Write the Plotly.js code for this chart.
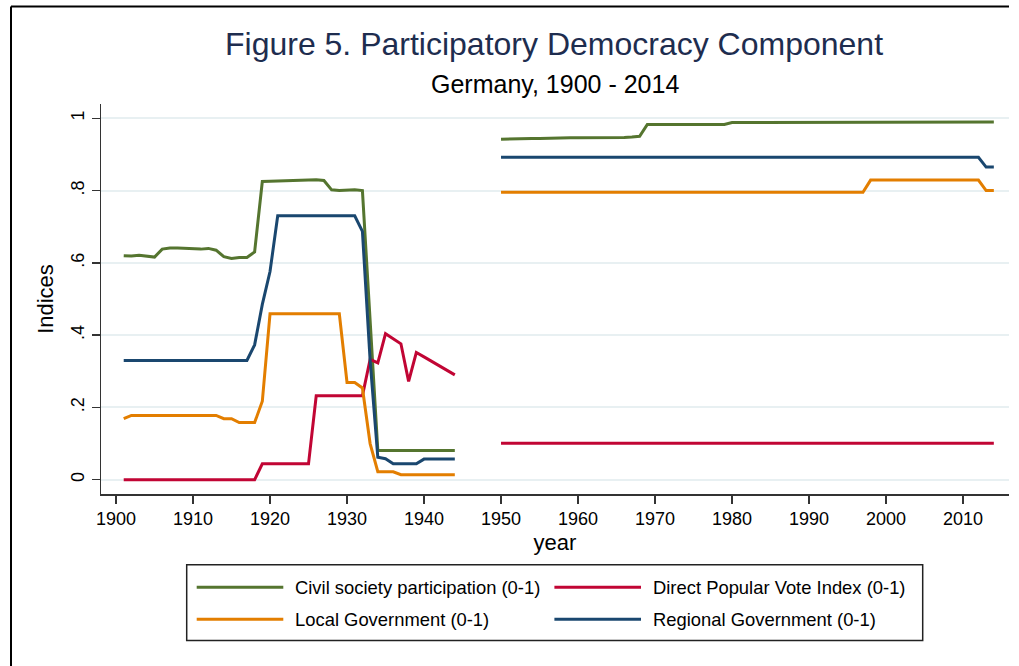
<!DOCTYPE html>
<html>
<head>
<meta charset="utf-8">
<script src="https://cdn.plot.ly/plotly-3.0.1.min.js"></script>
<style>html,body{margin:0;padding:0;background:#fff;overflow:hidden;}#chart{width:1019px;height:666px;}</style>
</head>
<body>
<div id="chart"></div>
<script>
// ---- Data ----
var yearsEarly = [1901,1902,1903,1904,1905,1906,1907,1908,1909,1910,1911,1912,1913,1914,1915,1916,1917,1918,1919,1920,1921,1922,1923,1924,1925,1926,1927,1928,1929,1930,1931,1932,1933,1934,1935,1936,1937,1938,1939,1940,1941,1942,1943,1944];
var yearsLate = [1950,1951,1952,1953,1954,1955,1956,1957,1958,1959,1960,1961,1962,1963,1964,1965,1966,1967,1968,1969,1970,1971,1972,1973,1974,1975,1976,1977,1978,1979,1980,1981,1982,1983,1984,1985,1986,1987,1988,1989,1990,1991,1992,1993,1994,1995,1996,1997,1998,1999,2000,2001,2002,2003,2004,2005,2006,2007,2008,2009,2010,2011,2012,2013,2014];

var civilEarly = [0.620,0.619,0.621,0.619,0.616,0.638,0.641,0.641,0.640,0.640,0.638,0.640,0.635,0.617,0.612,0.615,0.615,0.630,0.825,0.826,0.827,0.827,0.829,0.830,0.830,0.830,0.828,0.802,0.800,0.801,0.802,0.800,0.450,0.081,0.081,0.081,0.081,0.081,0.082,0.081,0.081,0.081,0.081,0.081];
var civilLate = [0.942,0.943,0.944,0.943,0.944,0.944,0.945,0.945,0.946,0.946,0.946,0.946,0.945,0.946,0.946,0.947,0.947,0.948,0.950,0.983,0.983,0.983,0.982,0.983,0.982,0.983,0.982,0.983,0.983,0.983,0.988,0.988,0.988,0.988,0.988,0.988,0.988,0.989,0.989,0.988,0.989,0.989,0.989,0.989,0.989,0.989,0.989,0.989,0.990,0.990,0.990,0.990,0.990,0.990,0.990,0.990,0.990,0.990,0.990,0.990,0.990,0.990,0.990,0.990,0.990];

var directEarly = [0,0,0,0,0,0,0,0,0,0,0,0,0,0,0,0,0,0,0.044,0.044,0.044,0.044,0.044,0.044,0.044,0.232,0.232,0.232,0.232,0.232,0.232,0.232,0.333,0.323,0.404,0.390,0.376,0.272,0.352,0.340,0.328,0.315,0.303,0.290];
var directLate = [0.101,0.101,0.101,0.101,0.101,0.101,0.101,0.101,0.101,0.101,0.101,0.101,0.101,0.101,0.101,0.101,0.101,0.101,0.101,0.101,0.101,0.101,0.101,0.101,0.101,0.101,0.101,0.101,0.101,0.101,0.101,0.101,0.101,0.101,0.101,0.101,0.101,0.101,0.101,0.101,0.101,0.101,0.101,0.101,0.101,0.101,0.101,0.101,0.101,0.101,0.101,0.101,0.101,0.101,0.101,0.101,0.101,0.101,0.101,0.101,0.101,0.101,0.101,0.101,0.101];

var localEarly = [0.169,0.178,0.178,0.178,0.178,0.178,0.178,0.178,0.178,0.178,0.178,0.178,0.178,0.169,0.169,0.158,0.158,0.158,0.217,0.459,0.459,0.459,0.459,0.459,0.459,0.459,0.459,0.459,0.459,0.269,0.269,0.254,0.100,0.022,0.022,0.022,0.014,0.014,0.014,0.014,0.014,0.014,0.014,0.014];
var localLate = [0.795,0.795,0.795,0.795,0.795,0.795,0.795,0.795,0.795,0.795,0.795,0.795,0.795,0.795,0.795,0.795,0.795,0.795,0.795,0.795,0.795,0.795,0.795,0.795,0.795,0.795,0.795,0.795,0.795,0.795,0.795,0.795,0.795,0.795,0.795,0.795,0.795,0.795,0.795,0.795,0.795,0.795,0.795,0.795,0.795,0.795,0.795,0.795,0.829,0.829,0.829,0.829,0.829,0.829,0.829,0.829,0.829,0.829,0.829,0.829,0.829,0.829,0.829,0.800,0.800];

var regionalEarly = [0.330,0.330,0.330,0.330,0.330,0.330,0.330,0.330,0.330,0.330,0.330,0.330,0.330,0.330,0.330,0.330,0.330,0.373,0.485,0.576,0.730,0.730,0.730,0.730,0.730,0.730,0.730,0.730,0.730,0.730,0.730,0.687,0.330,0.062,0.058,0.044,0.044,0.044,0.044,0.057,0.057,0.057,0.057,0.057];
var regionalLate = [0.892,0.892,0.892,0.892,0.892,0.892,0.892,0.892,0.892,0.892,0.892,0.892,0.892,0.892,0.892,0.892,0.892,0.892,0.892,0.892,0.892,0.892,0.892,0.892,0.892,0.892,0.892,0.892,0.892,0.892,0.892,0.892,0.892,0.892,0.892,0.892,0.892,0.892,0.892,0.892,0.892,0.892,0.892,0.892,0.892,0.892,0.892,0.892,0.892,0.892,0.892,0.892,0.892,0.892,0.892,0.892,0.892,0.892,0.892,0.892,0.892,0.892,0.892,0.865,0.865];

var seriesNames = ["Civil society participation (0-1)", "Direct Popular Vote Index (0-1)", "Local Government (0-1)", "Regional Government (0-1)"];
var seriesColors = ["#55752f", "#c10534", "#e37e00", "#1a476f"];

var yTickVals = [0, 0.2, 0.4, 0.6, 0.8, 1];
var yTickText = ["0", ".2", ".4", ".6", ".8", "1"];
var xTickVals = [1900,1910,1920,1930,1940,1950,1960,1970,1980,1990,2000,2010];

var titleText = "Figure 5. Participatory Democracy Component";
var subtitleText = "Germany, 1900 - 2014";

// ---- Build traces (gap between 1944 and 1950 via null) ----
var years = yearsEarly.concat([null]).concat(yearsLate);
function joinSeries(a, b){ return a.concat([null]).concat(b); }
var seriesValues = [
  joinSeries(civilEarly, civilLate),
  joinSeries(directEarly, directLate),
  joinSeries(localEarly, localLate),
  joinSeries(regionalEarly, regionalLate)
];

var FONT = "Liberation Sans, Arial, Helvetica, sans-serif";
var traces = seriesValues.map(function(v, i){
  return {
    type: "scatter", mode: "lines", x: years, y: v, name: seriesNames[i],
    connectgaps: false, showlegend: false,
    line: {color: seriesColors[i], width: 3}
  };
});

// layout geometry
var W = 1019, H = 666, ML = 101, MR = 10, MT = 104, MB = 172;
var PW = W - ML - MR, PH = H - MT - MB;
function px(p){ return (p - ML) / PW; }
function py(p){ return (H - MB - p) / PH; }

var shapes = [
  // outer frame (top + left edges)
  {type:"line", xref:"paper", yref:"paper", x0:px(11), x1:px(1009), y0:py(6.5), y1:py(6.5), line:{color:"#000", width:2}},
  {type:"line", xref:"paper", yref:"paper", x0:px(11), x1:px(11), y0:py(6.5), y1:py(670), line:{color:"#000", width:2}},
  // legend box
  {type:"rect", xref:"paper", yref:"paper", x0:px(186.7), x1:px(922.7), y0:py(564.7), y1:py(640.5), line:{color:"#222", width:1.5}, fillcolor:"rgba(255,255,255,0)"}
];
var annotations = [
  {xref:"paper", yref:"paper", x:px(554.5), y:py(84), xanchor:"center", yanchor:"middle", text:subtitleText, showarrow:false, font:{family:FONT, size:25, color:"#000"}}
];
// legend entries: two columns, two rows
var legCols = [196.7, 554.4];
var legRows = [587.3, 619.3];
var legOrder = [[0,1],[2,3]];
for (var r = 0; r < 2; r++) {
  for (var c = 0; c < 2; c++) {
    var k = legOrder[r][c];
    shapes.push({type:"line", xref:"paper", yref:"paper", x0:px(legCols[c]), x1:px(legCols[c] + 86.6), y0:py(legRows[r]), y1:py(legRows[r]), line:{color:seriesColors[k], width:3}});
    annotations.push({xref:"paper", yref:"paper", x:px(legCols[c] + 96.6), y:py(legRows[r]), xanchor:"left", yanchor:"middle", text:seriesNames[k], showarrow:false, font:{family:FONT, size:18.4, color:"#000"}});
  }
}

var layout = {
  width: W, height: H,
  margin: {l: ML, r: MR, t: MT, b: MB, pad: 0},
  paper_bgcolor: "#fff", plot_bgcolor: "#fff",
  font: {family: FONT, color: "#000"},
  showlegend: false,
  title: {text: titleText, x: 554/W, xref: "container", xanchor: "center", y: 1 - 44/H, yref: "container", yanchor: "middle", font: {family: FONT, size: 32, color: "#1e2d4f"}},
  xaxis: {
    range: [1898.05, 2015.97], tickmode: "array", tickvals: xTickVals,
    ticks: "outside", ticklen: 8, tickwidth: 1.5, tickcolor: "#333",
    showline: true, linecolor: "#333", linewidth: 1.5,
    showgrid: false, zeroline: false,
    tickfont: {family: FONT, size: 18, color: "#000"},
    title: {text: "year", font: {family: FONT, size: 22, color: "#000"}, standoff: 6}
  },
  yaxis: {
    range: [-0.0395, 1.0395], tickmode: "array", tickvals: yTickVals, ticktext: yTickText,
    tickangle: -90,
    ticks: "outside", ticklen: 8, tickwidth: 1.5, tickcolor: "#333",
    showline: true, linecolor: "#333", linewidth: 1.5,
    showgrid: true, gridcolor: "#e8f0f2", gridwidth: 2, zeroline: false,
    tickfont: {family: FONT, size: 18, color: "#000"},
    title: {text: "Indices", font: {family: FONT, size: 22, color: "#000"}, standoff: 8}
  },
  shapes: shapes,
  annotations: annotations
};

Plotly.newPlot("chart", traces, layout, {displayModeBar: false, staticPlot: true});
</script>
</body>
</html>
